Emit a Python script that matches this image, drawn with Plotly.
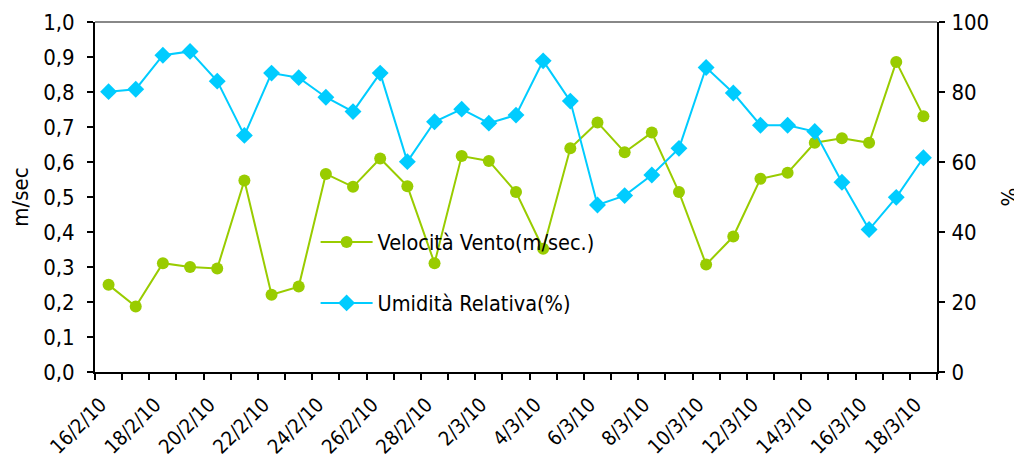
import plotly.graph_objects as go

dates = ["16/2/10", "17/2/10", "18/2/10", "19/2/10", "20/2/10", "21/2/10", "22/2/10",
         "23/2/10", "24/2/10", "25/2/10", "26/2/10", "27/2/10", "28/2/10",
         "1/3/10", "2/3/10", "3/3/10", "4/3/10", "5/3/10", "6/3/10", "7/3/10",
         "8/3/10", "9/3/10", "10/3/10", "11/3/10", "12/3/10", "13/3/10", "14/3/10",
         "15/3/10", "16/3/10", "17/3/10", "18/3/10"]

vento = [0.249, 0.187, 0.311, 0.300, 0.296, 0.547, 0.221, 0.244, 0.566, 0.529, 0.610, 0.531, 0.311,
         0.617, 0.603, 0.514, 0.352, 0.639, 0.713, 0.628, 0.684, 0.514, 0.307, 0.387, 0.552,
         0.569, 0.655, 0.668, 0.655, 0.886, 0.731]

umidita = [80.1, 80.8, 90.5, 91.6, 83.1, 67.6, 85.4, 84.1, 78.5, 74.4, 85.4, 60.1, 71.5,
           75.1, 71.1, 73.4, 88.9, 77.4, 47.7, 50.4, 56.3, 63.9, 87.0, 79.7, 70.5,
           70.5, 68.7, 54.2, 40.7, 49.9, 61.2]

left_ticks = [0.0, 0.1, 0.2, 0.3, 0.4, 0.5, 0.6, 0.7, 0.8, 0.9, 1.0]
right_ticks = [0, 20, 40, 60, 80, 100]

xi = list(range(len(dates)))
label_idx = xi[::2]
label_txt = dates[::2]

FONT = "DejaVu Sans Condensed, Liberation Sans, Arial, sans-serif"
GREEN = "#99CC00"
BLUE = "#00CCFF"

fig = go.Figure()
fig.add_trace(go.Scatter(
    x=xi, y=vento, name="Velocità Vento(m/sec.)", legendgroup="a",
    mode="lines+markers", line=dict(color=GREEN, width=2),
    marker=dict(symbol="circle", size=12, color=GREEN), yaxis="y"))
fig.add_trace(go.Scatter(
    x=xi, y=umidita, name="Umidità Relativa(%)", legendgroup="b",
    mode="lines+markers", line=dict(color=BLUE, width=2),
    marker=dict(symbol="diamond", size=13, color=BLUE), yaxis="y2"))

fig.update_layout(
    width=1014, height=456,
    margin=dict(l=87, r=85, t=14, b=92, autoexpand=False),
    paper_bgcolor="white", plot_bgcolor="white",
    font=dict(family=FONT, size=22, color="black"),
    separators=",.",
    showlegend=True,
    legend=dict(x=0.262, y=0.43, xanchor="left", yanchor="top",
                bgcolor="rgba(0,0,0,0)", tracegroupgap=30, itemwidth=52,
                font=dict(family=FONT, size=21.5, color="black")),
    xaxis=dict(range=[-0.5, len(dates) - 0.5], tickmode="array",
               tickvals=label_idx, ticktext=label_txt, tickangle=-45,
               tickfont=dict(size=20),
               ticks="", showgrid=False, zeroline=False, automargin=False,
               ticklabelstandoff=11, ticklabelshift=-8,
               showline=True, linecolor="black", linewidth=2,
               minor=dict(tickmode="linear", tick0=-0.5, dtick=1, ticks="outside",
                          ticklen=6, tickcolor="black", tickwidth=1.5, showgrid=False)),
    yaxis=dict(range=[0, 1.0], tickmode="array", tickvals=left_ticks, tickformat=".1f",
               ticks="outside", ticklen=6, tickcolor="black", tickwidth=1.5,
               ticklabelstandoff=8, automargin=False,
               showgrid=False, zeroline=False, showline=True, linecolor="black", linewidth=2,
               title=dict(text="m/sec", font=dict(size=22), standoff=14)),
    yaxis2=dict(range=[0, 100], tickmode="array", tickvals=right_ticks,
                overlaying="y", side="right", automargin=False,
                ticks="outside", ticklen=6, tickcolor="black", tickwidth=1.5,
                ticklabelstandoff=2,
                showgrid=False, zeroline=False, showline=True, linecolor="black", linewidth=2,
                title=dict(text="%", font=dict(size=22), standoff=30)),
    shapes=[dict(type="line", xref="paper", yref="paper", x0=0, x1=1, y0=1, y1=1,
                 line=dict(color="#888888", width=2))],
)

fig.write_html("out.html")
